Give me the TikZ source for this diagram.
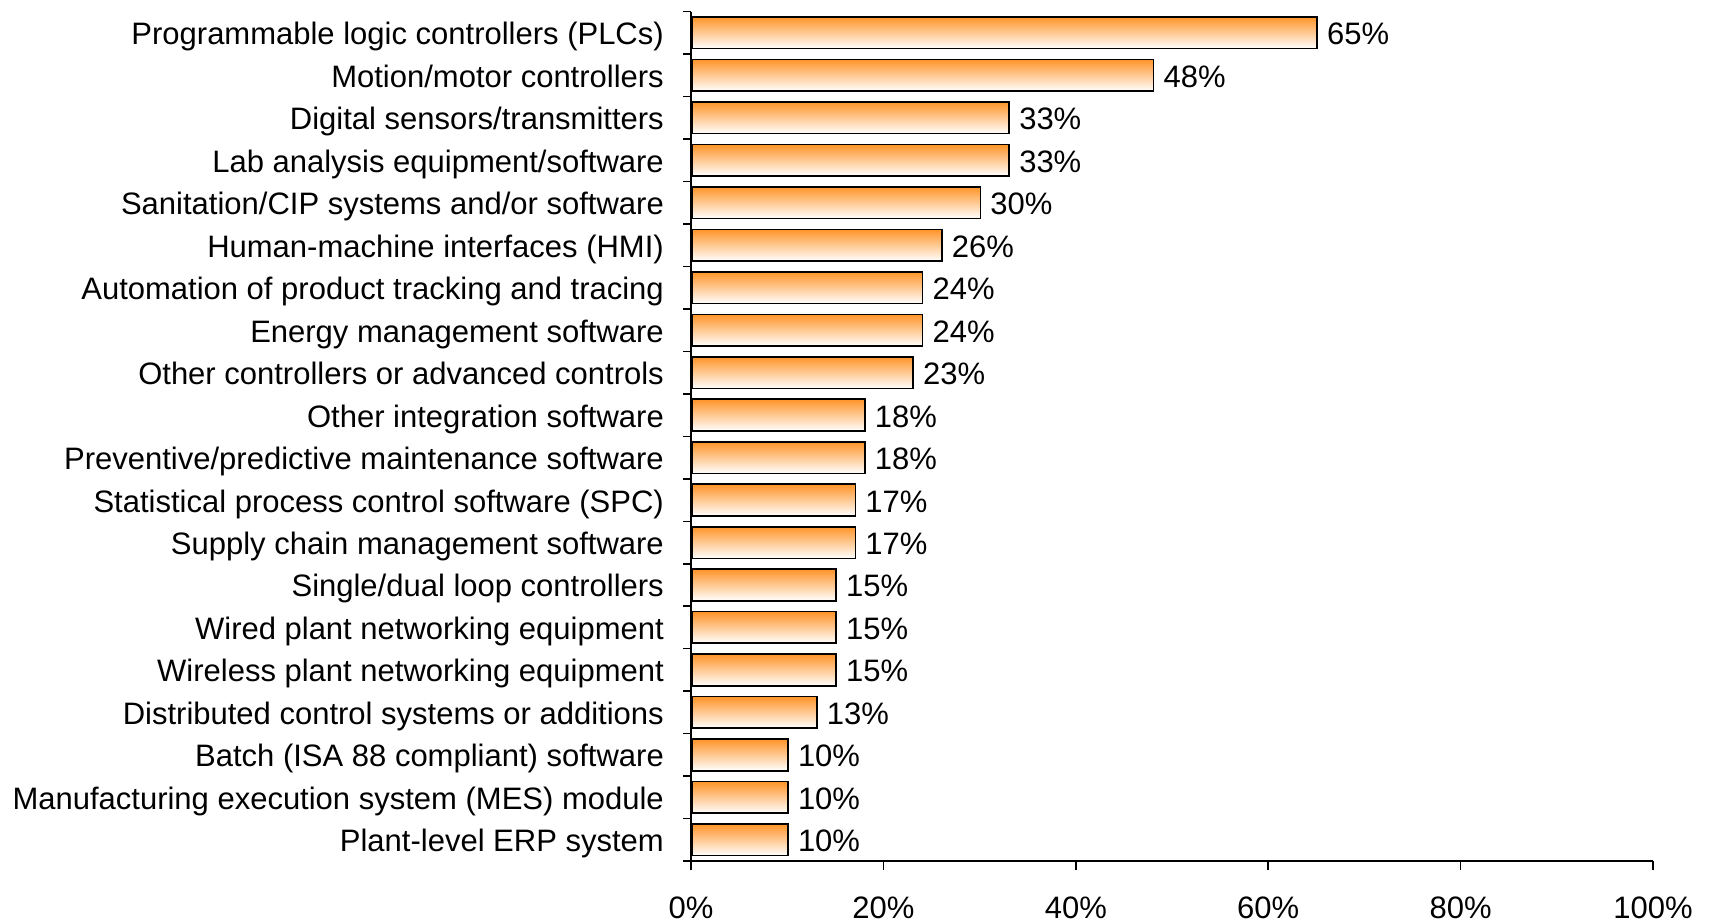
\documentclass[tikz,border=0pt]{standalone}
\usepackage{fontspec}
\setmainfont{Liberation Sans}
\definecolor{barorange}{RGB}{255,148,40}
\begin{document}
\begin{tikzpicture}[x=1pt,y=-1pt,
  font=\fontsize{31}{36}\selectfont,
  bar/.style={draw=black, line width=1.6pt, top color=barorange, bottom color=white,
    inner sep=0pt, anchor=west, minimum height=31.6pt},
  cat/.style={anchor=base east, inner sep=0pt},
  val/.style={anchor=base west, inner sep=0pt},
  axis/.style={draw=black, line width=1.5pt},
  ticklab/.style={anchor=base, inner sep=0pt}]
\path[fill=white] (0,0) rectangle (1710,922);
\useasboundingbox (0,0) rectangle (1710,922);
\foreach \v/\t [count=\i] in {
  65/{Programmable logic controllers (PLCs)},
  48/{Motion/motor controllers},
  33/{Digital sensors/transmitters},
  33/{Lab analysis equipment/software},
  30/{Sanitation/CIP systems and/or software},
  26/{Human-machine interfaces (HMI)},
  24/{Automation of product tracking and tracing},
  24/{Energy management software},
  23/{Other controllers or advanced controls},
  18/{Other integration software},
  18/{Preventive/predictive maintenance software},
  17/{Statistical process control software (SPC)},
  17/{Supply chain management software},
  15/{Single/dual loop controllers},
  15/{Wired plant networking equipment},
  15/{Wireless plant networking equipment},
  13/{Distributed control systems or additions},
  10/{Batch (ISA 88 compliant) software},
  10/{Manufacturing execution system (MES) module},
  10/{Plant-level ERP system}} {
  \pgfmathsetmacro{\yc}{11.5+(\i-0.5)*42.48}
  \pgfmathsetmacro{\yb}{\yc+12}
  \pgfmathsetmacro{\w}{\v*9.62}
  \node[bar, minimum width=\w pt] (b\i) at (691,\yc) {};
  \node[val] (v\i) at ([xshift=9pt,yshift=-12pt]b\i.east) {\v\%};
  \node[cat] (l\i) at (664,\yb) {\t};
}
% axes
\draw[axis] (691,11.5) -- (691,861) -- (1653,861);
\foreach \k in {0,...,20} {
  \pgfmathsetmacro{\yy}{11.5+\k*42.48}
  \draw[axis] (683,\yy) -- (691,\yy);
}
\foreach \p [count=\j from 0] in {0,20,40,60,80,100} {
  \pgfmathsetmacro{\xx}{691+\j*192.4}
  \draw[axis] (\xx,861) -- (\xx,870);
  \node[ticklab] (t\j) at (\xx,918) {\p\%};
}
\end{tikzpicture}
\end{document}
